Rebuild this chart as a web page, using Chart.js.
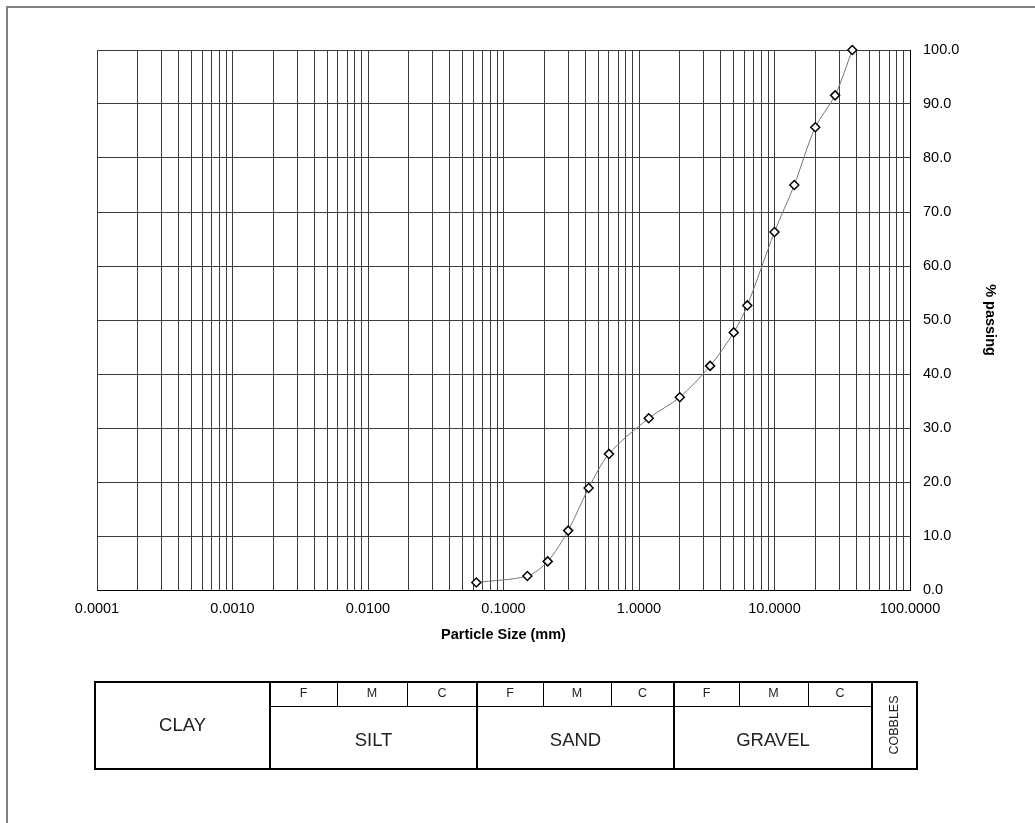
<!DOCTYPE html>
<html>
<head>
<meta charset="utf-8">
<title>Particle Size Distribution</title>
<script src="https://cdn.jsdelivr.net/npm/chart.js@4.4.1/dist/chart.umd.min.js"></script>
<style>
    body { margin: 0; background: #fff; }
    #frame { position: absolute; left: 6px; top: 6px; width: 1100px; height: 900px; border-left: 2px solid #808080; border-top: 2px solid #808080; }
    #chart { position: absolute; left: 0; top: 0; }
</style>
</head>
<body>
<div id="frame"></div>
<canvas id="chart" width="1035" height="823"></canvas>
<script>
// sieve results
const sizes = [0.063, 0.15, 0.212, 0.3, 0.425, 0.6, 1.18, 2.0, 3.35, 5.0, 6.3, 10, 14, 20, 28, 37.5];
const passing = [1.4, 2.6, 5.3, 11.0, 18.9, 25.2, 31.8, 35.7, 41.5, 47.7, 52.7, 66.3, 75.0, 85.7, 91.6, 100.0];

// axis ticks
const decades = [0.0001, 0.001, 0.01, 0.1, 1, 10, 100];
const minorSteps = [1, 2, 3, 4, 5, 6, 7, 8, 9];

// classification table
const mainClasses = ['CLAY', 'SILT', 'SAND', 'GRAVEL', 'COBBLES'];
const subClasses = ['F', 'M', 'C'];

const FONT = '"Liberation Sans", Arial, sans-serif';

const xTicks = [];
decades.forEach((d, i) => {
    if (i === decades.length - 1) {
        xTicks.push(d);
        return;
    }
    minorSteps.forEach(m => xTicks.push(Math.round(d * m * 1e6) / 1e6));
});

function isDecade(v) {
    const l = Math.log10(v);
    return Math.abs(l - Math.round(l)) < 1e-9;
}

// table below chart
const tableBox = { left: 95, right: 917, top: 682, mid: 706, bottom: 769 };
const mainEdges = [95, 270, 477, 674, 872, 917];
const subEdges = [[270, 337, 407, 477], [477, 543, 611, 674], [674, 739, 808, 872]];

const tablePlugin = {
    id: 'soilTable',
    afterDraw(chart) {
        const ctx = chart.ctx;
        ctx.save();
        ctx.strokeStyle = '#000';

        // sub dividers
        ctx.lineWidth = 1;
        ctx.beginPath();
        ctx.moveTo(mainEdges[1], tableBox.mid + 0.5);
        ctx.lineTo(mainEdges[4], tableBox.mid + 0.5);
        subEdges.forEach(edges => {
            edges.slice(1, 3).forEach(x => {
                ctx.moveTo(x + 0.5, tableBox.top);
                ctx.lineTo(x + 0.5, tableBox.mid);
            });
        });
        ctx.stroke();

        // main lines
        ctx.lineWidth = 2;
        ctx.beginPath();
        mainEdges.slice(1, 5).forEach(x => {
            ctx.moveTo(x, tableBox.top);
            ctx.lineTo(x, tableBox.bottom);
        });
        ctx.stroke();
        ctx.strokeRect(tableBox.left, tableBox.top, tableBox.right - tableBox.left, tableBox.bottom - tableBox.top);

        ctx.fillStyle = '#222';
        ctx.textAlign = 'center';
        ctx.textBaseline = 'middle';

        ctx.font = '18.5px ' + FONT;
        ctx.fillText(mainClasses[0], (mainEdges[0] + mainEdges[1]) / 2, 726);
        for (let i = 1; i <= 3; i++) {
            ctx.fillText(mainClasses[i], (mainEdges[i] + mainEdges[i + 1]) / 2, 741);
        }

        ctx.font = '12.5px ' + FONT;
        subEdges.forEach(edges => {
            subClasses.forEach((s, j) => {
                ctx.fillText(s, (edges[j] + edges[j + 1]) / 2, 694);
            });
        });

        ctx.translate((mainEdges[4] + mainEdges[5]) / 2, 725);
        ctx.rotate(-Math.PI / 2);
        ctx.fillText(mainClasses[4], 0, 0);
        ctx.restore();
    }
};

const ctx = document.getElementById('chart').getContext('2d');
const gradingChart = new Chart(ctx, {
    type: 'line',
    data: {
        datasets: [{
            label: '% passing',
            data: sizes.map((s, i) => ({ x: s, y: passing[i] })),
            borderColor: '#777',
            borderWidth: 1,
            tension: 0.3,
            pointStyle: 'rectRot',
            pointRadius: 4.5,
            pointBackgroundColor: '#fff',
            pointBorderColor: '#000',
            pointBorderWidth: 1.5,
            fill: false,
            clip: false
        }]
    },
    options: {
        responsive: false,
        animation: false,
        layout: {
            padding: { left: 97, top: 50, right: 0, bottom: 163 }
        },
        plugins: {
            legend: { display: false },
            tooltip: { enabled: false }
        },
        scales: {
            x: {
                type: 'logarithmic',
                position: 'bottom',
                min: 0.0001,
                max: 100,
                afterBuildTicks: function (scale) {
                    scale.ticks = xTicks.map(v => ({ value: v }));
                },
                afterFit: function (scale) {
                    scale.height = 70;
                },
                grid: {
                    color: '#3c3c3c',
                    lineWidth: 1,
                    drawTicks: false
                },
                border: { color: '#000', width: 1 },
                ticks: {
                    autoSkip: false,
                    maxRotation: 0,
                    padding: 10,
                    color: '#000',
                    font: { family: FONT, size: 14.5 },
                    callback: function (value) {
                        return isDecade(value) ? Number(value).toFixed(4) : '';
                    }
                },
                title: {
                    display: true,
                    text: 'Particle Size (mm)',
                    color: '#000',
                    font: { family: FONT, size: 14.5, weight: 'bold' },
                    padding: { top: 0, bottom: 16 }
                }
            },
            y: {
                type: 'linear',
                position: 'right',
                min: 0,
                max: 100,
                afterFit: function (scale) {
                    scale.width = 125;
                },
                grid: {
                    color: '#3c3c3c',
                    lineWidth: 1,
                    drawTicks: false
                },
                border: { color: '#000', width: 1 },
                ticks: {
                    stepSize: 10,
                    padding: 13,
                    color: '#000',
                    font: { family: FONT, size: 14.5 },
                    callback: function (value) {
                        return Number(value).toFixed(1);
                    }
                },
                title: {
                    display: true,
                    text: '% passing',
                    color: '#000',
                    font: { family: FONT, size: 14.5, weight: 'bold' },
                    padding: { top: 36, bottom: 0 }
                }
            }
        }
    },
    plugins: [tablePlugin]
});
</script>
</body>
</html>
